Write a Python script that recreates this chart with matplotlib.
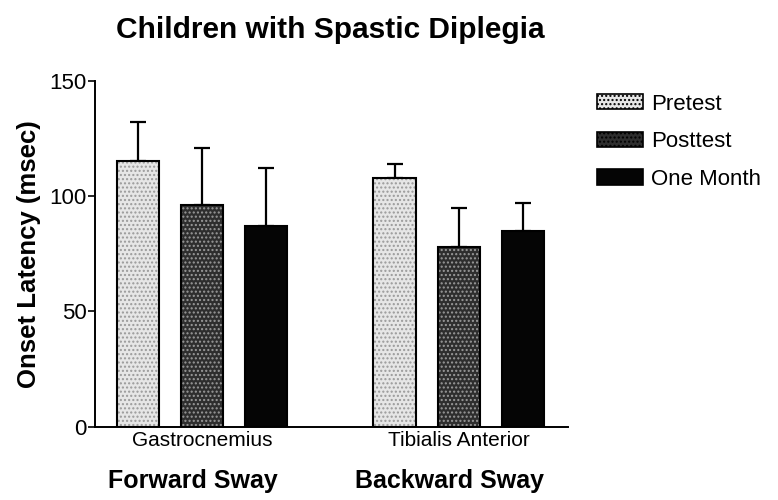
import matplotlib
matplotlib.use("Agg")
import matplotlib.pyplot as plt
import matplotlib.patches as mpatches
import numpy as np

plt.rcParams['font.family'] = ['Liberation Sans', 'DejaVu Sans']

muscles = ["Gastrocnemius", "Tibialis Anterior"]
sways = ["Forward Sway", "Backward Sway"]
series = ["Pretest", "Posttest", "One Month"]
means = {
    "Pretest":   [115, 108],
    "Posttest":  [96, 78],
    "One Month": [87, 85],
}
errs = {
    "Pretest":   [17, 6],
    "Posttest":  [25, 17],
    "One Month": [25, 12],
}
yticks = [0, 50, 100, 150]

faces = {"Pretest": "#e6e6e6", "Posttest": "#2e2e2e", "One Month": "#050505"}
hatches = {"Pretest": "....", "Posttest": "....", "One Month": None}
hatch_cols = {"Pretest": "#9a9a9a", "Posttest": "#9a9a9a", "One Month": "#050505"}

fig = plt.figure(figsize=(7.78, 5.0), dpi=100)
ax = fig.add_axes([0.122, 0.1466, 0.608, 0.692])

group_pos = np.array([0.0, 4.0])
width = 0.66
for i, s in enumerate(series):
    x = group_pos + i
    ax.bar(x, means[s], width, color=faces[s], hatch=hatches[s],
           edgecolor=hatch_cols[s], linewidth=0, zorder=2)
    ax.bar(x, means[s], width, fill=False, edgecolor="black", linewidth=1.5, zorder=3)
    ax.errorbar(x, means[s], yerr=[np.zeros(len(x)), errs[s]], fmt="none",
                ecolor="black", elinewidth=1.6, capsize=6, capthick=1.6, zorder=1)

ax.set_xlim(-0.67, 6.7)
ax.set_ylim(0, 150)
ax.set_yticks(yticks)
ax.tick_params(axis="y", labelsize=16, length=5, width=1.2, direction="out", pad=1)
ax.set_xticks(group_pos + 1)
ax.set_xticklabels(muscles, fontsize=15)
ax.tick_params(axis="x", length=0, pad=3)
ax.spines["top"].set_visible(False)
ax.spines["right"].set_visible(False)
ax.spines["left"].set_linewidth(1.4)
ax.spines["bottom"].set_linewidth(1.4)
ax.set_ylabel("Onset Latency (msec)", fontsize=18.5, fontweight="bold", labelpad=6)

fig.text(0.425, 0.94, "Children with Spastic Diplegia", fontsize=21.5,
         fontweight="bold", ha="center", va="center")

for gp, sw in zip(group_pos, sways):
    xf = ax.transData.transform((gp + 1, 0))[0]
    xf = fig.transFigure.inverted().transform((xf, 0))[0]
    fig.text(xf - 0.012, 0.038, sw, fontsize=18, fontweight="bold",
             ha="center", va="center")

handles = []
for s in series:
    handles.append(mpatches.Patch(facecolor=faces[s], edgecolor="black",
                                  hatch=hatches[s], linewidth=1.2, label=s))
leg = fig.legend(handles=handles, loc="upper left", bbox_to_anchor=(0.767, 0.813),
                 frameon=False, fontsize=16, handlelength=2.1, handleheight=0.68,
                 handletextpad=0.35, labelspacing=0.75, borderpad=0, borderaxespad=0)

fig.savefig("out.png", dpi=100)
